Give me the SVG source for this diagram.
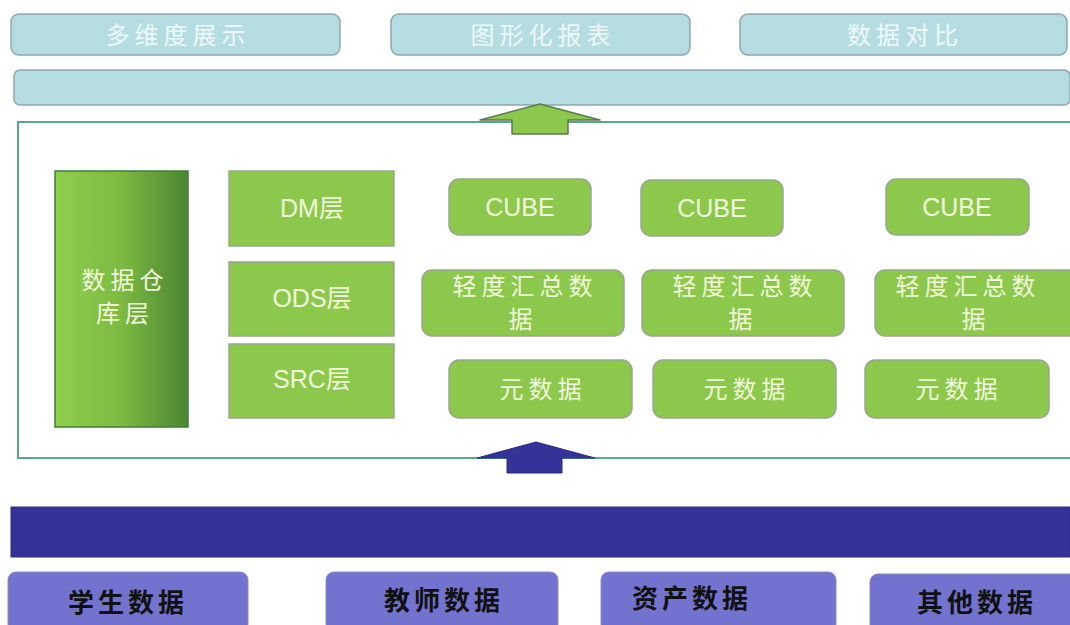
<svg xmlns="http://www.w3.org/2000/svg" width="1070" height="625" viewBox="0 0 1070 625">
<style>
.top{fill:#b5dde1;stroke:#8fa6aa;stroke-width:1.5}
.toptxt{fill:#eef7f8;font-family:"Noto Sans CJK SC","Liberation Sans",sans-serif;font-size:24px;letter-spacing:5px;text-anchor:middle}
.gn{fill:#8cc84b;stroke:#9aa590;stroke-width:1.5}
.gtxt{fill:#f2f8dc;font-family:"Liberation Sans","Noto Sans CJK SC",sans-serif;font-size:25px;text-anchor:middle}
.gcjk{fill:#f2f8dc;font-family:"Noto Sans CJK SC","Liberation Sans",sans-serif;font-size:24px;letter-spacing:5px;text-anchor:middle}
.bn{fill:#7272cf;stroke:#8a8ac8;stroke-width:1}
.btxt{fill:#111;font-family:"Noto Sans CJK SC","Liberation Sans",sans-serif;font-size:26px;font-weight:bold;letter-spacing:4px;text-anchor:middle}
</style>
<defs>
<linearGradient id="dw" x1="0" y1="0" x2="1" y2="0">
<stop offset="0" stop-color="#8fcf4c"/>
<stop offset="0.5" stop-color="#7cba42"/>
<stop offset="1" stop-color="#4a8630"/>
</linearGradient>
</defs>
<rect width="1070" height="625" fill="#ffffff"/>

<g id="top1"><rect class="top" x="11" y="14" width="329" height="41" rx="8"/><text class="toptxt" x="178" y="44">多维度展示</text></g>
<g id="top2"><rect class="top" x="391" y="14" width="299" height="41" rx="8"/><text class="toptxt" x="543" y="44">图形化报表</text></g>
<g id="top3"><rect class="top" x="740" y="14" width="327" height="41" rx="8"/><text class="toptxt" x="905" y="44">数据对比</text></g>
<g id="topbar"><rect class="top" x="14" y="70" width="1056" height="35" rx="6"/></g>

<g id="dwbox"><rect x="18" y="122" width="1060" height="336" fill="#ffffff" stroke="#5aa88a" stroke-width="2"/></g>

<g id="dw-layer"><rect x="55" y="171" width="133" height="256" fill="url(#dw)" stroke="#3f7f38" stroke-width="1.5"/>
<text class="gcjk" x="125" y="289" font-size="22" letter-spacing="7">数据仓</text><text class="gcjk" x="125" y="322" font-size="22" letter-spacing="7">库层</text></g>
<g id="dm"><rect x="229" y="171" width="165" height="75" fill="#8cc84b" stroke="#9aa590" stroke-width="1.5"/><text class="gtxt" x="312" y="217">DM层</text></g>
<g id="ods"><rect x="229" y="262" width="165" height="74" fill="#8cc84b" stroke="#9aa590" stroke-width="1.5"/><text class="gtxt" x="312" y="307">ODS层</text></g>
<g id="src"><rect x="229" y="344" width="165" height="74" fill="#8cc84b" stroke="#9aa590" stroke-width="1.5"/><text class="gtxt" x="312" y="388">SRC层</text></g>

<g id="cube1"><rect class="gn" x="449" y="179" width="142" height="56" rx="10"/><text class="gtxt" x="520" y="216" font-size="26">CUBE</text></g>
<g id="cube2"><rect class="gn" x="641" y="180" width="142" height="56" rx="10"/><text class="gtxt" x="712" y="217" font-size="26">CUBE</text></g>
<g id="cube3"><rect class="gn" x="886" y="179" width="143" height="56" rx="10"/><text class="gtxt" x="957" y="216" font-size="26">CUBE</text></g>

<g id="sum1"><rect class="gn" x="422" y="270" width="202" height="66" rx="10"/><text class="gcjk" x="525" y="295">轻度汇总数</text><text class="gcjk" x="523" y="328">据</text></g>
<g id="sum2"><rect class="gn" x="642" y="270" width="202" height="66" rx="10"/><text class="gcjk" x="745" y="295">轻度汇总数</text><text class="gcjk" x="743" y="328">据</text></g>
<g id="sum3"><rect class="gn" x="875" y="270" width="205" height="66" rx="10"/><text class="gcjk" x="968" y="295">轻度汇总数</text><text class="gcjk" x="976" y="328">据</text></g>

<g id="meta1"><rect class="gn" x="449" y="360" width="183" height="58" rx="10"/><text class="gcjk" x="543" y="398">元数据</text></g>
<g id="meta2"><rect class="gn" x="653" y="360" width="183" height="58" rx="10"/><text class="gcjk" x="747" y="398">元数据</text></g>
<g id="meta3"><rect class="gn" x="865" y="360" width="184" height="58" rx="10"/><text class="gcjk" x="959" y="398">元数据</text></g>

<g id="connectors">
<polygon points="512,134 512,120 480,120 540,104 600,120 568,120 568,134" fill="#8cc84b" stroke="#5d7a52" stroke-width="1.5" stroke-linejoin="round"/>
<polygon points="507,473 507,458 477,458 536,442 595,458 562,458 562,473" fill="#33339a" stroke="#2a2a80" stroke-width="1"/>
</g>

<g id="srcbar"><rect x="11" y="507" width="1059" height="50" fill="#333399" stroke="#2c2c80" stroke-width="1"/></g>

<g id="stu"><rect class="bn" x="8" y="572" width="240" height="60" rx="8"/><text class="btxt" x="128" y="612">学生数据</text></g>
<g id="tea"><rect class="bn" x="326" y="572" width="232" height="60" rx="8"/><text class="btxt" x="444" y="610">教师数据</text></g>
<g id="ast"><rect class="bn" x="601" y="572" width="235" height="60" rx="8"/><text class="btxt" x="692" y="608">资产数据</text></g>
<g id="oth"><rect class="bn" x="870" y="574" width="210" height="60" rx="8"/><text class="btxt" x="977" y="612">其他数据</text></g>
</svg>
